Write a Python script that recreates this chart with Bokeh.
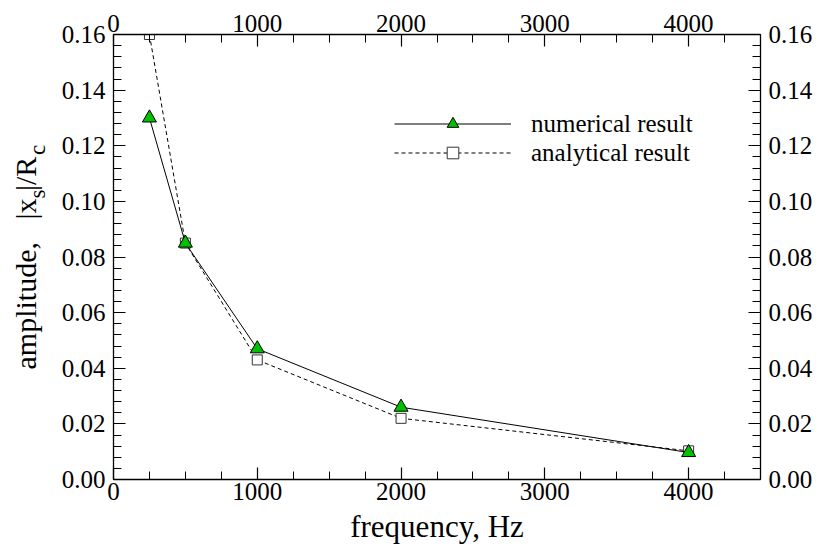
import math
from bokeh.plotting import figure
from bokeh.models import (Range1d, LinearAxis, SingleIntervalTicker, NumeralTickFormatter,
                          Legend, LegendItem, Label)
from bokeh.embed import file_html
from bokeh.resources import INLINE

# ---- data ----
freq = [250, 500, 1000, 2000, 4000]
numerical = [0.130, 0.085, 0.047, 0.026, 0.0097]
analytical = [0.160, 0.085, 0.043, 0.022, 0.0103]
x_ticks_interval = 1000
y_ticks_interval = 0.02

FONT = "Liberation Serif"
NB = "\u00a0"

p = figure(width=820, height=550, output_backend="svg", toolbar_location=None,
           x_range=Range1d(0, 4500), y_range=Range1d(0, 0.16),
           min_border_left=112, min_border_right=60, min_border_top=34, min_border_bottom=71)
p.grid.visible = False
p.outline_line_color = None
p.background_fill_color = "white"
p.border_fill_color = "white"


def style(ax, standoff):
    ax.major_tick_in = 12
    ax.major_tick_out = 0
    ax.minor_tick_in = 8
    ax.minor_tick_out = 0
    ax.axis_line_color = "black"
    ax.axis_line_width = 1.3
    ax.major_tick_line_color = "black"
    ax.major_tick_line_width = 1.2
    ax.minor_tick_line_color = "black"
    ax.minor_tick_line_width = 1.0
    ax.major_label_text_font = FONT
    ax.major_label_text_font_size = "25px"
    ax.major_label_text_color = "black"
    ax.major_label_standoff = standoff


bx = p.xaxis[0]
bx.ticker = SingleIntervalTicker(interval=x_ticks_interval, num_minor_ticks=4)
style(bx, 3)
bx.axis_label = "frequency, Hz"
bx.axis_label_text_font = FONT
bx.axis_label_text_font_size = "31px"
bx.axis_label_text_font_style = "normal"
bx.axis_label_text_color = "black"
bx.axis_label_standoff = 6

ly = p.yaxis[0]
ly.ticker = SingleIntervalTicker(interval=y_ticks_interval, num_minor_ticks=5)
ly.formatter = NumeralTickFormatter(format="0.00")
style(ly, 8)

tx = LinearAxis(ticker=SingleIntervalTicker(interval=x_ticks_interval, num_minor_ticks=4))
style(tx, 3)
p.add_layout(tx, "above")
ry = LinearAxis(ticker=SingleIntervalTicker(interval=y_ticks_interval, num_minor_ticks=5),
                formatter=NumeralTickFormatter(format="0.00"))
style(ry, 8)
p.add_layout(ry, "right")

# ---- series ----
a_line = p.line(freq, analytical, line_color="black", line_width=1, line_dash="4 3")
a_mark = p.scatter(freq, analytical, marker="square", size=10, fill_color="white",
                   line_color="#333333", line_width=1)
n_line = p.line(freq, numerical, line_color="black", line_width=1)
n_mark = p.scatter(freq, numerical, marker="triangle", size=14, fill_color="#00c000",
                   line_color="black", line_width=1)

legend = Legend(items=[LegendItem(label="numerical result", renderers=[n_line, n_mark]),
                       LegendItem(label="analytical result", renderers=[a_line, a_mark])],
                location=(281, 312), orientation="vertical",
                glyph_width=117, glyph_height=29, label_height=29, spacing=0,
                label_standoff=20, padding=0, margin=0,
                border_line_color=None, background_fill_alpha=0,
                label_text_font=FONT, label_text_font_size="25px", label_text_color="black")
p.add_layout(legend, "center")

# ---- y title: main text and subscripts as two labels in the left side panel ----
main_fs, sub_fs = 30, 23
main_text = "amplitude," + NB * 3 + "|x" + NB + "|/R"
sub_text = "s" + NB * 6 + "c"
y_main = 110
y_sub = y_main + (4250 + 750 + 700) * main_fs / 1000.0
p.add_layout(Label(x=0, y=y_main, x_units="screen", y_units="screen", text=main_text,
                   angle=math.pi / 2, text_font=FONT, text_font_size=f"{main_fs}px",
                   text_align="left", text_baseline="alphabetic", text_color="black"), "left")
p.add_layout(Label(x=37, y=y_sub, x_units="screen", y_units="screen", text=sub_text,
                   angle=math.pi / 2, text_font=FONT, text_font_size=f"{sub_fs}px",
                   text_align="left", text_baseline="alphabetic", text_color="black"), "left")

open("out.html", "w").write(file_html(p, INLINE))
